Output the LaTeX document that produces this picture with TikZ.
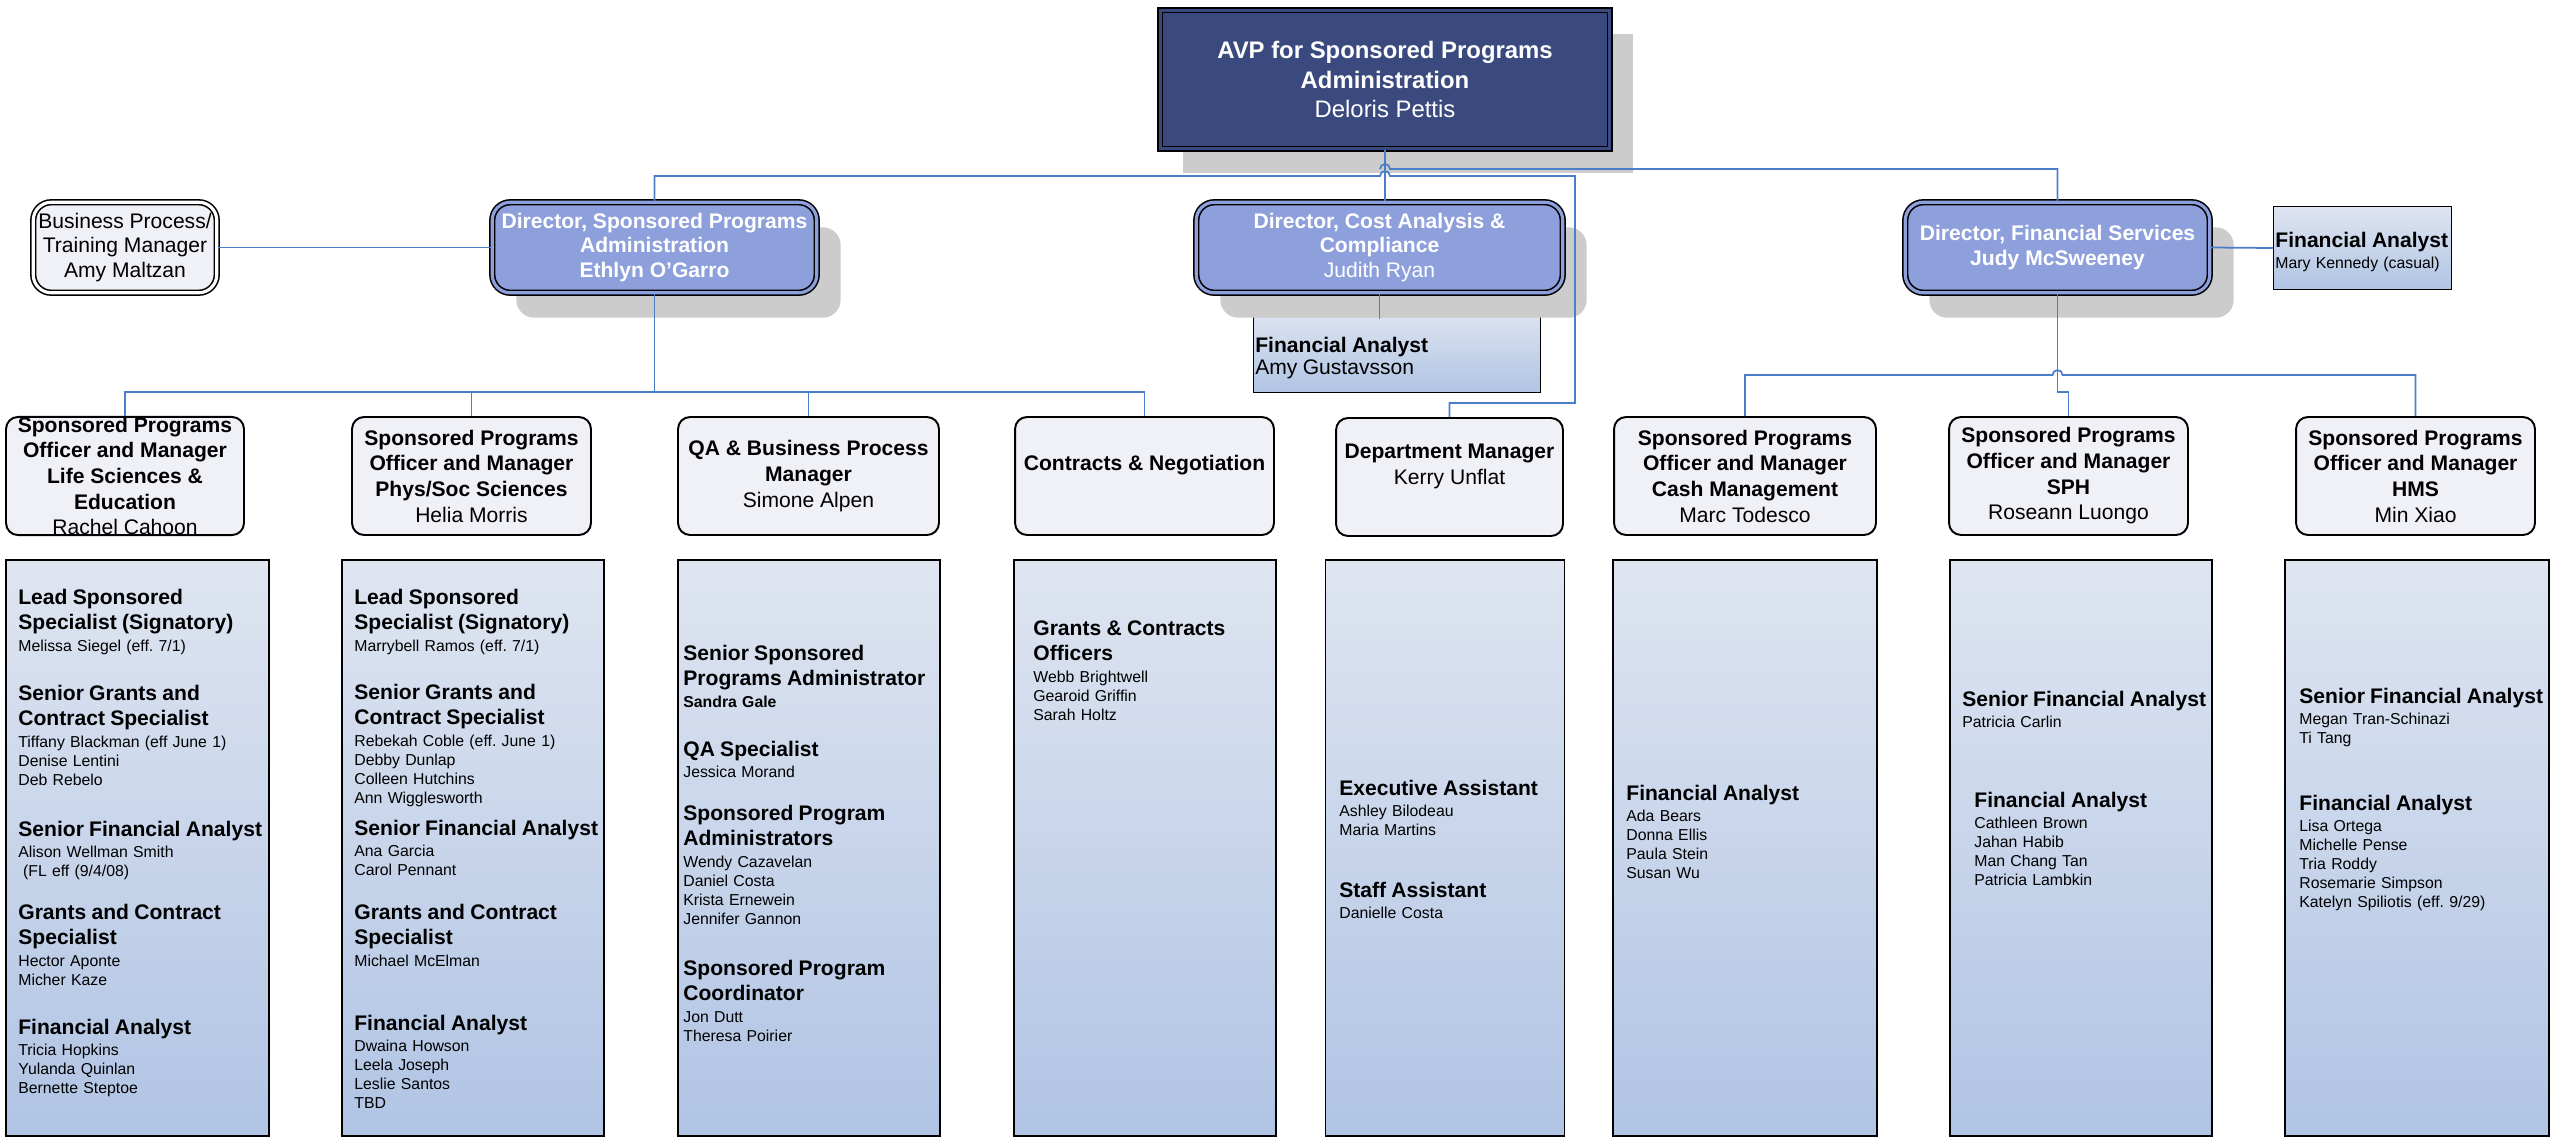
\documentclass[tikz,border=0pt]{standalone}
\usepackage{fontspec}
\setmainfont{Liberation Sans}
\usepackage{tikz}
\usetikzlibrary{calc, shadows}
\usepackage{xcolor}

\definecolor{avpblue}{RGB}{59,74,126}
\definecolor{dirblue}{RGB}{142,160,220}
\definecolor{mgrfill}{RGB}{240,241,247}
\definecolor{listtop}{RGB}{223,229,241}
\definecolor{listbot}{RGB}{176,196,228}
\definecolor{shadowgrey}{RGB}{204,204,204}
\definecolor{linkblue}{RGB}{74,126,201}

\frenchspacing
\newcommand\jobhead[1]{{\fontsize{12}{14.6}\selectfont\bfseries #1\par}\vspace{1.6pt}}
\newcommand\staffnames[1]{{\fontsize{9}{10.8}\selectfont #1\par}}

\begin{document}
\begin{tikzpicture}[x=0.02cm, y=0.02cm,
    conn/.style={draw=linkblue, line width=1pt},
    avpbox/.style={draw=black, line width=0.9pt, double=avpblue, double distance=1.8pt, fill=avpblue,
        text=white, align=center, inner sep=0pt, font=\fontsize{13.6}{17}\selectfont,
        drop shadow={shadow xshift=0.46cm, shadow yshift=-0.48cm, fill=shadowgrey, opacity=1}},
    dirbox/.style={draw=black, line width=0.9pt, double=dirblue, double distance=1.8pt, fill=dirblue,
        rounded corners=0.36cm, text=white, align=center, inner sep=0pt, font=\fontsize{12}{14.2}\selectfont\bfseries,
        drop shadow={shadow xshift=0.48cm, shadow yshift=-0.5cm, fill=shadowgrey, opacity=1}},
    sidebox/.style={draw=black, line width=0.9pt, double=white, double distance=1.8pt, fill=mgrfill,
        rounded corners=0.36cm, align=center, inner sep=0pt, font=\fontsize{12}{14}\selectfont},
    mgrbox/.style={draw=black, line width=1.1pt, fill=mgrfill, rounded corners=0.24cm, align=center,
        inner sep=0pt, font=\fontsize{12}{14.6}\selectfont\bfseries},
    listbox/.style={draw=black, line width=0.9pt, top color=listtop, bottom color=listbot, inner sep=0pt},
    grp/.style={anchor=base west, inner sep=0pt, text width=5.6cm, align=left, font=\fontsize{9}{10.8}\selectfont}]

    \useasboundingbox (0,0) rectangle (2553,-1143);

    \node[listbox, minimum width=5.74cm, minimum height=1.66cm] (fa1) at (1397,-351) {};
    \node[grp] (fa1t) at (1255,-352) {{\fontsize{12}{13}\selectfont\textbf{Financial Analyst}\\Amy Gustavsson\par}};

    \node[avpbox, minimum width=8.99cm, minimum height=2.77cm] (avp) at (1385,-79.5) {\textbf{AVP for Sponsored Programs}\\\textbf{Administration}\\Deloris Pettis};

    \node[sidebox, minimum width=3.67cm, minimum height=1.81cm] (bp) at (125,-247.5) {Business Process/\\Training Manager\\Amy Maltzan};
    \node[dirbox, minimum width=6.49cm, minimum height=1.81cm] (dspa) at (654.5,-247.5) {Director, Sponsored Programs\\Administration\\Ethlyn O’Garro};
    \node[dirbox, minimum width=7.33cm, minimum height=1.81cm] (dca) at (1379.5,-247.5) {Director, Cost Analysis \&\\Compliance\\{\mdseries Judith Ryan}};
    \node[dirbox, minimum width=6.09cm, minimum height=1.81cm] (dfs) at (2057.5,-247.5) {Director, Financial Services\\Judy McSweeney};
    \node[listbox, minimum width=3.56cm, minimum height=1.66cm] (fa2) at (2362.5,-248) {};
    \node[grp] (fa2t) at (2275,-247) {\jobhead{Financial Analyst}\staffnames{Mary Kennedy (casual)}};

    \node[mgrbox, minimum width=4.76cm, minimum height=2.36cm] (m1) at (125,-476) {Sponsored Programs\\Officer and Manager\\Life Sciences \&\\Education\\{\mdseries Rachel Cahoon}};
    \node[mgrbox, minimum width=4.78cm, minimum height=2.36cm] (m2) at (471.5,-476) {Sponsored Programs\\Officer and Manager\\Phys/Soc Sciences\\{\mdseries Helia Morris}};
    \node[mgrbox, minimum width=5.22cm, minimum height=2.36cm] (m3) at (808.5,-476) {QA \& Business Process\\Manager\\{\mdseries Simone Alpen}};
    \node[mgrbox, minimum width=5.18cm, minimum height=2.36cm] (m4) at (1144.5,-476) {Contracts \& Negotiation\\\mbox{}};
    \node[mgrbox, minimum width=4.54cm, minimum height=2.36cm] (m5) at (1449.5,-477) {Department Manager\\{\mdseries Kerry Unflat}\\\mbox{}};
    \node[mgrbox, minimum width=5.24cm, minimum height=2.36cm] (m6) at (1745,-476) {Sponsored Programs\\Officer and Manager\\Cash Management\\{\mdseries Marc Todesco}};
    \node[mgrbox, minimum width=4.78cm, minimum height=2.36cm] (m7) at (2068.5,-476) {Sponsored Programs\\Officer and Manager\\SPH\\{\mdseries Roseann Luongo}};
    \node[mgrbox, minimum width=4.78cm, minimum height=2.36cm] (m8) at (2415.5,-476) {Sponsored Programs\\Officer and Manager\\HMS\\{\mdseries Min Xiao}};

    \node[listbox, minimum width=5.26cm, minimum height=11.52cm] (l1) at (137.5,-848) {};
    \node[listbox, minimum width=5.24cm, minimum height=11.52cm] (l2) at (473,-848) {};
    \node[listbox, minimum width=5.24cm, minimum height=11.52cm] (l3) at (809,-848) {};
    \node[listbox, minimum width=5.24cm, minimum height=11.52cm] (l4) at (1145,-848) {};
    \node[listbox, minimum width=4.78cm, minimum height=11.52cm] (l5) at (1445,-848) {};
    \node[listbox, minimum width=5.28cm, minimum height=11.52cm] (l6) at (1745,-848) {};
    \node[listbox, minimum width=5.24cm, minimum height=11.52cm] (l7) at (2081,-848) {};
    \node[listbox, minimum width=5.28cm, minimum height=11.52cm] (l8) at (2417,-848) {};

    \node[grp] (t11) at (18,-604) {\jobhead{Lead Sponsored\\Specialist (Signatory)}\staffnames{Melissa Siegel (eff. 7/1)}};
    \node[grp] (t12) at (18,-700) {\jobhead{Senior Grants and\\Contract Specialist}\staffnames{Tiffany Blackman (eff June 1)\\Denise Lentini\\Deb Rebelo}};
    \node[grp] (t13) at (18,-836) {\jobhead{Senior Financial Analyst}\staffnames{Alison Wellman Smith\\\hspace*{0.3em}(FL eff (9/4/08)}};
    \node[grp] (t14) at (18,-919) {\jobhead{Grants and Contract\\Specialist}\staffnames{Hector Aponte\\Micher Kaze}};
    \node[grp] (t15) at (18,-1034) {\jobhead{Financial Analyst}\staffnames{Tricia Hopkins\\Yulanda Quinlan\\Bernette Steptoe}};

    \node[grp] (t21) at (354,-604) {\jobhead{Lead Sponsored\\Specialist (Signatory)}\staffnames{Marrybell Ramos (eff. 7/1)}};
    \node[grp] (t22) at (354,-699) {\jobhead{Senior Grants and\\Contract Specialist}\staffnames{Rebekah Coble (eff. June 1)\\Debby Dunlap\\Colleen Hutchins\\Ann Wigglesworth}};
    \node[grp] (t23) at (354,-835) {\jobhead{Senior Financial Analyst}\staffnames{Ana Garcia\\Carol Pennant}};
    \node[grp] (t24) at (354,-919) {\jobhead{Grants and Contract\\Specialist}\staffnames{Michael McElman}};
    \node[grp] (t25) at (354,-1030) {\jobhead{Financial Analyst}\staffnames{Dwaina Howson\\Leela Joseph\\Leslie Santos\\TBD}};

    \node[grp] (t31) at (683,-660) {\jobhead{Senior Sponsored\\Programs Administrator}\staffnames{\textbf{Sandra Gale}}};
    \node[grp] (t32) at (683,-756) {\jobhead{QA Specialist}\staffnames{Jessica Morand}};
    \node[grp] (t33) at (683,-820) {\jobhead{Sponsored Program\\Administrators}\staffnames{Wendy Cazavelan\\Daniel Costa\\Krista Ernewein\\Jennifer Gannon}};
    \node[grp] (t34) at (683,-975) {\jobhead{Sponsored Program\\Coordinator}\staffnames{Jon Dutt\\Theresa Poirier}};

    \node[grp] (t41) at (1033,-635) {\jobhead{Grants \& Contracts\\Officers}\staffnames{Webb Brightwell\\Gearoid Griffin\\Sarah Holtz}};

    \node[grp] (t51) at (1339,-795) {\jobhead{Executive Assistant}\staffnames{Ashley Bilodeau\\Maria Martins}};
    \node[grp] (t52) at (1339,-897) {\jobhead{Staff Assistant}\staffnames{Danielle Costa}};

    \node[grp] (t61) at (1626,-800) {\jobhead{Financial Analyst}\staffnames{Ada Bears\\Donna Ellis\\Paula Stein\\Susan Wu}};

    \node[grp] (t71) at (1962,-706) {\jobhead{Senior Financial Analyst}\staffnames{Patricia Carlin}};
    \node[grp] (t72) at (1974,-807) {\jobhead{Financial Analyst}\staffnames{Cathleen Brown\\Jahan Habib\\Man Chang Tan\\Patricia Lambkin}};

    \node[grp] (t81) at (2299,-703) {\jobhead{Senior Financial Analyst}\staffnames{Megan Tran-Schinazi\\Ti Tang}};
    \node[grp] (t82) at (2299,-810) {\jobhead{Financial Analyst}\staffnames{Lisa Ortega\\Michelle Pense\\Tria Roddy\\Rosemarie Simpson\\Katelyn Spiliotis (eff. 9/29)}};

    \coordinate (dmbend) at (1575,-403);

    \draw[conn] (avp.south) -- (avp.south |- dca.north);
    \draw[conn] ($(avp.south)+(-5,-19.5)$) arc[start angle=180, end angle=0, radius=0.1cm] -| (dfs.north);
    \draw[conn] (dspa.north) |- ($(avp.south)+(-5,-26.5)$) arc[start angle=180, end angle=0, radius=0.1cm] -| (dmbend) -| (m5.north);
    \draw[conn] (bp.east) -- (dspa.west);
    \draw[conn] (dfs.east) -- (fa2.west);
    \draw[conn] (dca.south) -- ($(dca.south)+(0,-25)$);

    \draw[conn] (m1.north) -- ++(0,24) -| (m4.north);
    \foreach \m in {m2,m3}
        \draw[conn] (\m.north) -- ++(0,24);
    \draw[conn] (dspa.south) |- ($(m2.north)+(0,24)$);

    \draw[conn] (dfs.south) |- ($(m7.north)+(0,24)$) -- (m7.north);
    \draw[conn] (m6.north) -- ++(0,41) -- ($(dfs.south |- m6.north)+(-5,41)$) arc[start angle=180, end angle=0, radius=0.1cm] -| (m8.north);
\end{tikzpicture}
\end{document}
